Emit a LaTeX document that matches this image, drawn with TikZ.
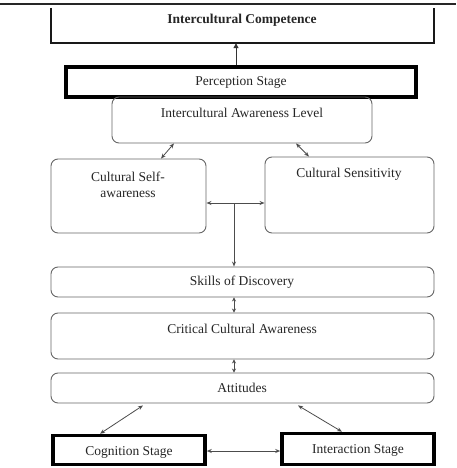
\documentclass[tikz,border=0pt]{standalone}
\usepackage{fontspec}
\setmainfont{Liberation Serif}
\usetikzlibrary{arrows.meta,positioning,calc}
\begin{document}
\begin{tikzpicture}[x=1pt,y=-1pt,
  txt/.style={font=\fontsize{13.5}{15.5}\selectfont, text=black!85, inner sep=0pt},
  rbox/.style={draw=black!60, line width=0.9pt, rounded corners=7pt, inner sep=0pt},
  thickbox/.style={draw=black, line width=3.5pt, inner sep=0pt},
  conn/.style={draw=black!70, line width=0.8pt, {Stealth[length=5pt,width=4pt,open]}-{Stealth[length=5pt,width=4pt,open]}},
  small/.style={draw=black!70, line width=0.7pt, {Stealth[length=4pt,width=4pt]}-{Stealth[length=4pt,width=4pt]}},
  up/.style={draw=black!80, line width=1pt, -{Triangle[length=5pt,width=5pt]}},
  down/.style={draw=black!70, line width=0.8pt, -{Stealth[length=5pt,width=4pt,open]}}
]
\useasboundingbox (0,0) rectangle (456,468);
\fill[white] (0,0) rectangle (456,468);
% top rule
\coordinate (tl) at (0,4);
\coordinate (tr) at (456,4);
\draw[line width=1.6pt, black!85] (tl) -- (tr);
% Intercultural Competence (open on top)
\node[inner sep=0pt, minimum width=383pt, minimum height=35pt] (comp) at (242.5,25.5) {};
\draw[line width=2pt, black!90] (comp.north west) -- (comp.south west) -- (comp.south east) -- (comp.north east);
\node[txt, font=\fontsize{13.5}{15.5}\selectfont\bfseries] (compt) at (242,20) {Intercultural Competence};
% Perception
\node[thickbox, minimum width=350pt, minimum height=30pt] (perc) at (241,82) {};
\node[txt] (perct) at (241,82) {Perception Stage};
% Intercultural Awareness Level
\node[rbox, minimum width=260pt, minimum height=46pt] (ial) at (242,120) {};
\node[txt] (ialt) at (242,113) {Intercultural Awareness Level};
% Cultural Self-awareness
\node[rbox, minimum width=155pt, minimum height=74pt] (self) at (128.5,196) {};
\node[txt, align=center, text depth=0pt] (selft) at (128,184.5) {Cultural Self-\\awareness};
% Cultural Sensitivity
\node[rbox, minimum width=169pt, minimum height=76pt] (sens) at (349.5,195) {};
\node[txt] (senst) at (349,174) {Cultural Sensitivity};
% Skills of Discovery
\node[rbox, minimum width=383pt, minimum height=30pt] (skills) at (242.5,282) {};
\node[txt] (skillst) at (242,282) {Skills of Discovery};
% Critical Cultural Awareness
\node[rbox, minimum width=383pt, minimum height=46pt] (crit) at (242.5,336) {};
\node[txt] (critt) at (242,329) {Critical Cultural Awareness};
% Attitudes
\node[rbox, minimum width=383pt, minimum height=30pt] (att) at (242.5,388) {};
\node[txt] (attt) at (242,388) {Attitudes};
% Cognition and Interaction
\node[thickbox, minimum width=152pt, minimum height=29pt] (cog) at (129,450) {};
\node[txt] (cogt) at (129,452) {Cognition Stage};
\node[thickbox, minimum width=152pt, minimum height=31pt] (inter) at (358,449) {};
\node[txt] (intert) at (358,450) {Interaction Stage};
% connectors
\draw[up] ([xshift=-5pt]perc.north) -- ([xshift=-6.5pt]comp.south);
\draw[conn] ([xshift=-68pt]ial.south) -- ([xshift=32.5pt]self.north);
\draw[conn] ([xshift=54pt]ial.south) -- ([xshift=-40.5pt]sens.north);
\draw[conn] ([yshift=-7pt]self.east) -- ([yshift=-8pt]sens.west);
\coordinate (j) at (234,203);
\draw[down] (j) -- ([xshift=-8.5pt]skills.north);
\draw[small] ([xshift=-8.5pt]skills.south) -- ([xshift=-8.5pt]crit.north);
\draw[small] ([xshift=-8.5pt]crit.south) -- ([xshift=-8.5pt]att.north);
\draw[conn] ([xshift=-99.5pt,yshift=-2pt]att.south) -- ([xshift=-29pt]cog.north);
\draw[conn] ([xshift=55.5pt,yshift=-2pt]att.south) -- ([xshift=-16pt]inter.north);
\draw[conn] ([yshift=-1pt]cog.east) -- ([yshift=-2pt]inter.west);
\end{tikzpicture}
\end{document}
